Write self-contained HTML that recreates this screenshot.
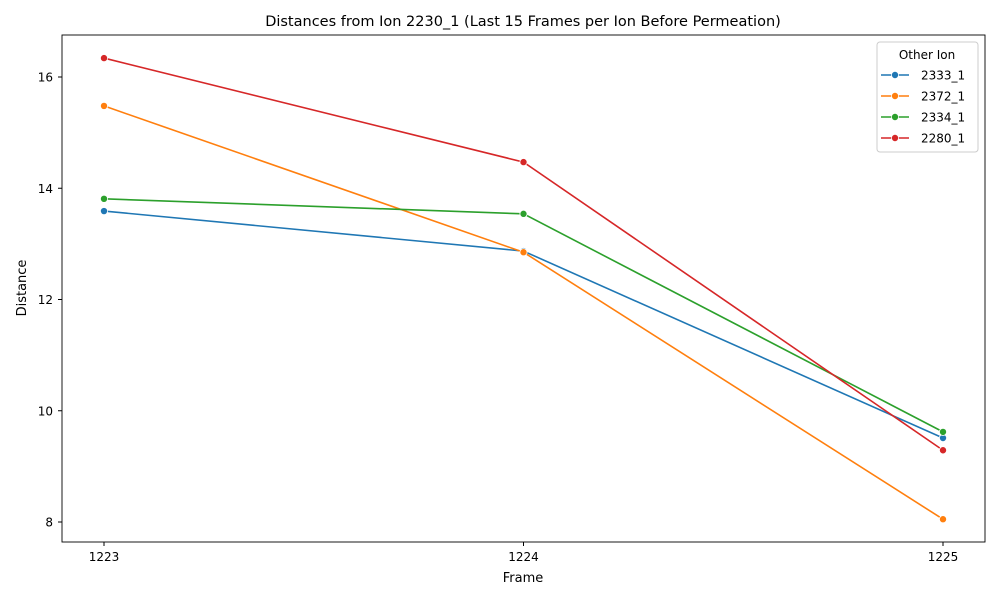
<!DOCTYPE html>
<html><head><meta charset="utf-8"><style>
body{margin:0;background:#fff;font-family:"Liberation Sans","DejaVu Sans",sans-serif}
svg text{font-family:"DejaVu Sans","Liberation Sans",sans-serif}
</style></head><body>
<svg id="chart" width="1000" height="600" viewBox="0 0 1000 600">
<rect width="1000" height="600" fill="#fff"/>
<text x="523" y="26" text-anchor="middle" font-size="14.5">Distances from Ion 2230_1 (Last 15 Frames per Ion Before Permeation)</text>
<g id="axes"></g>
<g id="series"></g>
<rect x="62" y="35" width="923" height="507" fill="none" stroke="#000" stroke-width="0.9"/>
<text x="523" y="582" text-anchor="middle" font-size="13">Frame</text>
<text transform="translate(26,288) rotate(-90)" text-anchor="middle" font-size="13">Distance</text>
<g id="legend"></g>
</svg>
<script>
const frames=[1223,1224,1225];
const seriesNames=["2333_1","2372_1","2334_1","2280_1"];
const colors=["#1f77b4","#ff7f0e","#2ca02c","#d62728"];
const s2333=[13.59,12.87,9.51];
const s2372=[15.48,12.85,8.05];
const s2334=[13.81,13.54,9.62];
const s2280=[16.34,14.47,9.29];
const yTicks=[8,10,12,14,16];
const allSeries=[s2333,s2372,s2334,s2280];
const NS="http://www.w3.org/2000/svg";
function xs(f){return 104+(f-1223)*419.5;}
function ys(v){return 522-(v-8)*55.625;}
function mk(tag,attrs,parent){const e=document.createElementNS(NS,tag);for(const k in attrs)e.setAttribute(k,attrs[k]);parent.appendChild(e);return e;}
const axes=document.getElementById('axes');
frames.forEach(f=>{
  const t=mk('line',{x1:xs(f),x2:xs(f),y1:542,y2:546,stroke:'#000'},axes);
  
  
  const l=mk('text',{x:xs(f),y:561,'text-anchor':'middle','font-size':'12'},axes);
  l.textContent=f;
  
  
});
yTicks.forEach(v=>{
  const t=mk('line',{x1:58,x2:62,y1:ys(v),y2:ys(v),stroke:'#000'},axes);
  
  
  const l=mk('text',{x:53,y:ys(v)+4.5,'text-anchor':'end','font-size':'12'},axes);
  l.textContent=v;
  
  
});
const sg=document.getElementById('series');
allSeries.forEach((vals,i)=>{
  const g=mk('g',{},sg);
  
  
  const pts=vals.map((v,j)=>xs(frames[j])+','+ys(v)).join(' ');
  const pl=mk('polyline',{points:pts,fill:'none',stroke:colors[i],'stroke-width':1.6},g);
  
  
  vals.forEach((v,j)=>{
    const c=mk('circle',{cx:xs(frames[j]),cy:ys(v),r:3.6,fill:colors[i],stroke:'#fff','stroke-width':0.8},g);
    
    
  });
});
const lg=document.getElementById('legend');
mk('rect',{x:877,y:42,width:101,height:110,rx:3,fill:'#fff',stroke:'#ccc'},lg);
const lt=mk('text',{x:927,y:59,'text-anchor':'middle','font-size':'12'},lg);
lt.textContent='Other Ion';


seriesNames.forEach((n,i)=>{
  const y=75+i*21;
  const g=mk('g',{},lg);
  
  
  mk('line',{x1:881,x2:909,y1:y,y2:y,stroke:colors[i],'stroke-width':1.6},g);
  mk('circle',{cx:895,cy:y,r:3.6,fill:colors[i],stroke:'#fff','stroke-width':0.8},g);
  const t=mk('text',{x:921,y:y+4.5,'font-size':'12'},g);
  t.textContent=n;
});
</script>
</body></html>
